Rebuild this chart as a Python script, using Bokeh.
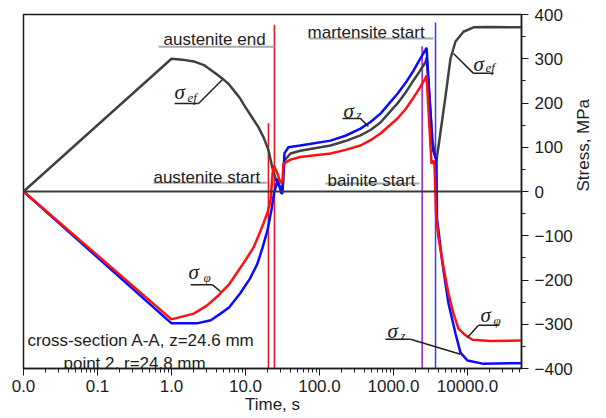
import math
import numpy as np
from bokeh.plotting import figure
from bokeh.models import FixedTicker, SingleIntervalTicker, Span, Label
from bokeh.embed import file_html
from bokeh.resources import INLINE

# Time axis is logarithmic; t = 0 is drawn at the left end of the axis.
T_START, T_END = 0.01, 53700.0

# Effective stress sigma_ef, MPa
t_ef = [0, 1, 1.4, 2, 2.8, 4, 4.9, 6, 7, 8.5, 10, 12, 15, 17.5, 20.5, 23.2, 25.4,
        27.9, 30.6, 31.8, 33.6, 40.6, 55, 141, 224, 358, 489, 667, 1132, 1452,
        1862, 2244, 2705, 2800, 3367, 3583, 3811, 4316, 5046, 5890, 6885, 8830,
        12060, 20000, 53700]
sig_ef = [0, 300, 298, 294, 285, 266, 255, 242, 228, 210, 190, 170, 145, 123, 93,
          52, 30, 14, 8, 10, 70, 86, 92, 104, 114, 127, 139, 156, 199, 223,
          251, 271, 292, 303, 115, 86, 70, 134, 215, 300, 339, 361,
          371, 372, 371]

# Axial stress sigma_z, MPa
t_z = [0, 1, 2.2, 3.4, 4.6, 6, 8.5, 11.5, 14.5, 17, 19.8, 22.5, 24.5, 25.4, 27.1,
       30.6, 31.6, 33.6, 38, 55, 141, 224, 358, 489, 667, 1132, 1452, 1862, 2244,
       2705, 2800, 3367, 3470, 3811, 3870, 4592, 5540, 6885, 8035, 10000, 15970,
       53700]
sig_z = [0, -298, -298, -291, -276, -262, -230, -197, -163, -127, -88, -40, 0, 7, 29,
         -5, -3, 86, 100, 104, 115, 126, 142, 157, 176, 221, 245, 273, 297,
         320, 325, 104, 90, 72, -60, -163, -253, -321, -364, -382, -389,
         -388]

# Hoop stress sigma_phi, MPa
t_phi = [0, 1, 2, 3, 4.3, 6, 8, 10, 12.8, 15, 17.5, 20, 21.8, 23.2, 24.2, 27.1,
         29.7, 31.5, 32.6, 40.6, 55, 141, 224, 358, 489, 667, 1132, 1452, 1862,
         2244, 2705, 2800, 3263, 3470, 3583, 3650, 3750, 4055, 4742, 5540, 6471,
         7555, 9390, 11690, 20470, 53700]
sig_phi = [0, -289, -276, -258, -235, -210, -179, -155, -127, -100, -72, -45, -20, 40,
           59, 40, 20, 22, 63, 72, 78, 86, 94, 104, 116, 131, 165, 186, 212,
           233, 256, 262, 63, 70, 59, 20, -50, -104, -172, -231, -276,
           -310, -325, -335, -338, -337]

decades = [0.01, 0.1, 1.0, 10.0, 100.0, 1000.0, 10000.0]
decade_labels = ["0.0", "0.1", "1.0", "10.0", "100.0", "1000.0", "10000.0"]

# Phase transformation moments, s
phase_names = ["austenite start", "austenite end", "bainite start", "martensite start"]
phase_times = [20.4, 24.6, 2440.0, 3700.0]
phase_tops = [154, 377, 328, 382]
phase_colors = ["#e8141e", "#e8141e", "#9a1fd0", "#3a3aff"]

FONT = "Liberation Sans"
SERIF = "Liberation Serif"
INK = "#1c1c1c"


def tpos(t):
    t = np.asarray(t, dtype=float)
    return np.where(t <= 0, T_START, t)


p = figure(width=606, height=418, x_axis_type="log",
           x_range=(T_START, T_END), y_range=(-400, 400),
           y_axis_location="right", output_backend="svg", toolbar_location=None,
           min_border_left=23, min_border_right=85,
           min_border_top=14, min_border_bottom=50)
p.background_fill_color = "white"
p.border_fill_color = "white"
p.outline_line_color = INK
p.outline_line_width = 1.5
p.grid.visible = False

# bottom time axis
xa = p.xaxis[0]
minor = [k * d for d in decades for k in range(2, 10) if k * d < T_END]
xa.ticker = FixedTicker(ticks=decades, minor_ticks=minor)
xa.major_label_overrides = dict(zip(decades, decade_labels))
xa.axis_label = "Time, s"

# right stress axis, title reading upwards
ya = p.yaxis[0]
ya.ticker = SingleIntervalTicker(interval=100, num_minor_ticks=2)
ya.axis_label = "Stress, MPa"
ya.axis_label_orientation = math.pi / 2

for ax in (xa, ya):
    ax.axis_line_color = INK
    ax.axis_line_width = 1.5
    ax.major_tick_line_color = INK
    ax.minor_tick_line_color = INK
    ax.major_tick_out = 7
    ax.major_tick_in = 0
    ax.minor_tick_out = 4
    ax.minor_tick_in = 0
    ax.major_label_text_font = FONT
    ax.major_label_text_font_size = "17px"
    ax.major_label_text_color = INK
    ax.axis_label_text_font = FONT
    ax.axis_label_text_font_size = "17px"
    ax.axis_label_text_font_style = "normal"
    ax.axis_label_text_color = INK
xa.major_label_standoff = 4
xa.axis_label_standoff = 0
ya.major_label_standoff = 6
ya.axis_label_standoff = 8

# zero stress line
p.add_layout(Span(location=0, dimension="width", line_color="#3a3a3a", line_width=2))

# phase transformation markers
p.segment(x0=phase_times, y0=[-400] * 4, x1=phase_times, y1=phase_tops,
          line_color=phase_colors, line_width=1.5)

# stress curves
p.line(tpos(t_ef), sig_ef, line_color="#404040", line_width=2.5)
p.line(tpos(t_z), sig_z, line_color="#0a0aff", line_width=2.5)
p.line(tpos(t_phi), sig_phi, line_color="#ff1010", line_width=2.5)

# phase labels with grey underlines
phase_label_pos = {
    "austenite end": (0.78, 343, 0.667, 24.6, 327),
    "austenite start": (0.57, 32, 0.57, 20.0, 20),
    "martensite start": (68.9, 359, 73.0, 3475.0, 346),
    "bainite start": (128.0, 25, 120.0, 2244.0, 18),
}
for name, (lx, ly, u0, u1, uy) in phase_label_pos.items():
    p.add_layout(Label(x=lx, y=ly, text=name, text_font=FONT, text_font_size="17px",
                       text_color=INK, text_baseline="alphabetic", text_align="left"))
    p.segment(x0=[u0], y0=[uy], x1=[u1], y1=[uy], line_color="#a8a8a8", line_width=2)

# location note
p.add_layout(Label(x=0.0113, y=-337, text="cross-section A-A, z=24.6 mm", text_font=FONT,
                   text_font_size="17px", text_color=INK, text_baseline="alphabetic"))
p.add_layout(Label(x=0.0347, y=-389, text="point 2, r=24,8 mm", text_font=FONT,
                   text_font_size="17px", text_color=INK, text_baseline="alphabetic"))

# curve labels: (subscript, sigma pos, subscript pos, underline x0, x1, y, leader end)
curve_labels = [
    ("ef", (1.1, 224), (1.64, 212), 1.1, 2.32, 199, (4.89, 253), "right"),
    ("z", (211, 183), (316, 174), 205, 358, 165, (459, 147), "right"),
    ("ef", (12050, 289), (17500, 280), 12050, 22450, 267, (6470, 312), "left"),
    ("\u03c6", (1.70, -183), (2.7, -194), 1.81, 3.58, -211, (4.6, -226), "right"),
    ("\u03c6", (15000, -280), (22450, -292), 14090, 27050, -302, (10000, -330), "left"),
    ("z", (830, -316), (1245, -325), 780, 1698, -334, (8035, -368), "right"),
]
for sub, (sx, sy), (bx, by), u0, u1, uy, (ex, ey), side in curve_labels:
    p.add_layout(Label(x=sx, y=sy, text="\u03c3", text_font=SERIF, text_font_size="21px",
                       text_font_style="italic", text_color=INK, text_baseline="alphabetic"))
    p.add_layout(Label(x=bx, y=by, text=sub, text_font=SERIF, text_font_size="13px",
                       text_font_style="italic", text_color=INK, text_baseline="alphabetic"))
    p.segment(x0=[u0], y0=[uy], x1=[u1], y1=[uy], line_color="#202020", line_width=1.5)
    start = u1 if side == "right" else u0
    p.segment(x0=[start], y0=[uy], x1=[ex], y1=[ey], line_color="#202020", line_width=1.5)

open("out.html", "w").write(file_html(p, INLINE))
